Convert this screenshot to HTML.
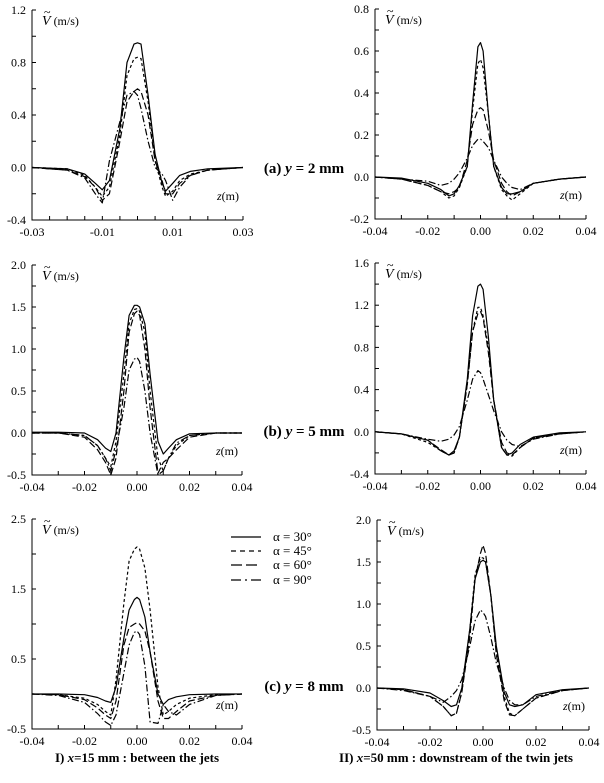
<!DOCTYPE html>
<html><head><meta charset="utf-8"><style>
html,body{margin:0;padding:0;background:#fff;}
svg text{font-family:"Liberation Serif",serif;fill:#000;}
</style></head><body>
<svg id="fig" width="604" height="778" viewBox="0 0 604 778" xmlns="http://www.w3.org/2000/svg">
<g>
 <line x1="231" y1="537" x2="261" y2="537" stroke="#000" stroke-width="1.3"/>
 <line x1="231" y1="551" x2="261" y2="551" stroke="#000" stroke-width="1.3" stroke-dasharray="5,4"/>
 <line x1="231" y1="565" x2="261" y2="565" stroke="#000" stroke-width="1.3" stroke-dasharray="11,4"/>
 <line x1="231" y1="580" x2="261" y2="580" stroke="#000" stroke-width="1.3" stroke-dasharray="10,4,2,4"/>
 <text x="273" y="541" font-size="13">α = 30°</text>
 <text x="273" y="555" font-size="13">α = 45°</text>
 <text x="273" y="569" font-size="13">α = 60°</text>
 <text x="273" y="584" font-size="13">α = 90°</text>
</g>
<text x="304" y="173" font-size="15" font-weight="bold" text-anchor="middle">(a) <tspan font-style="italic">y</tspan> = 2 mm</text>
<text x="304" y="436" font-size="15" font-weight="bold" text-anchor="middle">(b) <tspan font-style="italic">y</tspan> = 5 mm</text>
<text x="304" y="691" font-size="15" font-weight="bold" text-anchor="middle">(c) <tspan font-style="italic">y</tspan> = 8 mm</text>
<text x="137" y="762" font-size="13" font-weight="bold" text-anchor="middle">I) <tspan font-style="italic">x</tspan>=15 mm : between the jets</text>
<text x="456" y="762" font-size="13" font-weight="bold" text-anchor="middle">II) <tspan font-style="italic">x</tspan>=50 mm : downstream of the twin jets</text>
</svg>
<script>
const zA = [-0.03,-0.02,-0.015,-0.012,-0.01,-0.008,-0.005,-0.003,-0.001,0,0.001,0.003,0.005,0.007,0.008,0.01,0.012,0.015,0.02,0.03];
const a30 = [0,-0.01,-0.05,-0.12,-0.17,-0.1,0.3,0.8,0.94,0.95,0.94,0.55,0.1,-0.12,-0.18,-0.12,-0.06,-0.03,-0.01,0];
const a45 = [0,-0.01,-0.06,-0.15,-0.22,-0.15,0.25,0.7,0.83,0.84,0.83,0.5,0.05,-0.15,-0.22,-0.18,-0.1,-0.05,-0.02,0];
const a60 = [0,-0.02,-0.07,-0.15,-0.25,-0.2,0.2,0.5,0.58,0.6,0.58,0.4,0.05,-0.1,-0.2,-0.2,-0.12,-0.06,-0.02,0];
const a90 = [0,-0.02,-0.08,-0.2,-0.27,0.05,0.35,0.55,0.58,0.55,0.45,0.2,0.0,-0.05,-0.1,-0.25,-0.15,-0.06,-0.02,0];
const zB = [-0.04,-0.03,-0.02,-0.015,-0.012,-0.01,-0.008,-0.005,-0.003,-0.001,0,0.001,0.003,0.005,0.008,0.01,0.012,0.015,0.02,0.03,0.04];
const d30 = [0,-0.005,-0.03,-0.06,-0.09,-0.08,-0.04,0.05,0.35,0.62,0.64,0.6,0.3,0.05,-0.05,-0.08,-0.08,-0.07,-0.03,-0.01,0];
const d45 = [0,-0.01,-0.04,-0.07,-0.1,-0.09,-0.05,0.05,0.32,0.54,0.56,0.52,0.3,0.05,-0.06,-0.09,-0.11,-0.08,-0.03,-0.01,0];
const d60 = [0,-0.01,-0.04,-0.07,-0.08,-0.07,-0.05,0.08,0.25,0.32,0.33,0.32,0.22,0.08,-0.03,-0.07,-0.09,-0.07,-0.03,-0.01,0];
const d90 = [0,-0.01,-0.02,-0.04,-0.03,-0.01,0.02,0.09,0.15,0.18,0.18,0.17,0.14,0.08,0.0,-0.03,-0.05,-0.06,-0.03,-0.01,0];
const b30 = [0.01,0.01,0,-0.08,-0.18,-0.22,0.0,0.9,1.4,1.52,1.52,1.5,1.3,0.7,-0.1,-0.25,-0.18,-0.08,-0.01,0,0];
const b45 = [0,0,-0.03,-0.15,-0.3,-0.4,-0.1,0.7,1.3,1.47,1.48,1.45,1.2,0.5,-0.3,-0.45,-0.3,-0.15,-0.03,0,0];
const b60 = [0,0,-0.05,-0.2,-0.35,-0.5,-0.3,0.5,1.2,1.42,1.45,1.4,1.0,0.3,-0.48,-0.35,-0.3,-0.2,-0.05,0,0];
const b90 = [0,0,-0.03,-0.15,-0.3,-0.45,-0.2,0.3,0.75,0.88,0.9,0.85,0.5,0.0,-0.5,-0.45,-0.3,-0.12,-0.03,0,0];
const e30 = [0,-0.02,-0.08,-0.18,-0.22,-0.18,-0.05,0.5,1.1,1.38,1.4,1.35,0.9,0.3,-0.15,-0.22,-0.2,-0.12,-0.05,-0.01,0];
const e45 = [0,-0.02,-0.1,-0.18,-0.22,-0.2,-0.05,0.45,0.95,1.18,1.18,1.1,0.8,0.3,-0.15,-0.22,-0.23,-0.15,-0.06,-0.02,0];
const e60 = [0,-0.02,-0.08,-0.17,-0.22,-0.2,-0.05,0.45,0.95,1.12,1.14,1.08,0.75,0.3,-0.1,-0.2,-0.22,-0.15,-0.06,-0.02,0];
const e90 = [0,-0.02,-0.07,-0.09,-0.07,-0.03,0.05,0.3,0.5,0.58,0.56,0.5,0.35,0.2,0.0,-0.08,-0.12,-0.14,-0.07,-0.02,0];
const c30 = [0,0,-0.01,-0.05,-0.1,-0.12,0.1,0.8,1.2,1.35,1.38,1.35,1.1,0.6,0.0,-0.15,-0.08,-0.04,-0.01,0,0];
const c45 = [0,-0.01,-0.06,-0.15,-0.25,-0.3,0.2,1.3,1.9,2.07,2.1,2.07,1.8,1.2,0.1,-0.3,-0.25,-0.15,-0.06,-0.01,0];
const c60 = [0,-0.01,-0.08,-0.2,-0.3,-0.35,-0.1,0.7,0.95,1.0,1.02,1.0,0.9,0.6,-0.1,-0.35,-0.35,-0.25,-0.1,-0.02,0];
const c90 = [0,-0.02,-0.12,-0.28,-0.4,-0.45,-0.3,0.3,0.7,0.88,0.9,0.85,0.4,-0.4,-0.42,-0.15,-0.25,-0.3,-0.15,-0.02,0];
const f30 = [0,-0.01,-0.06,-0.15,-0.22,-0.2,0.0,0.7,1.3,1.5,1.52,1.5,1.1,0.5,-0.05,-0.2,-0.22,-0.2,-0.08,-0.02,0];
const f45 = [0,-0.02,-0.1,-0.22,-0.33,-0.3,-0.05,0.7,1.35,1.55,1.55,1.5,1.1,0.45,-0.1,-0.3,-0.33,-0.25,-0.12,-0.03,0];
const f60 = [0,-0.02,-0.1,-0.22,-0.33,-0.3,-0.05,0.6,1.3,1.6,1.7,1.6,1.1,0.4,-0.15,-0.32,-0.33,-0.25,-0.12,-0.03,0];
const f90 = [0,-0.03,-0.1,-0.17,-0.1,-0.03,0.1,0.5,0.8,0.93,0.9,0.85,0.6,0.3,0.0,-0.15,-0.2,-0.2,-0.1,-0.03,0];
const xTicksA = [-0.03,-0.01,0.01,0.03];
const xTicksB = [-0.04,-0.02,0.00,0.02,0.04];
const yTicksA = [-0.4,0.0,0.4,0.8,1.2];
const yTicksD = [-0.2,0.0,0.2,0.4,0.6,0.8];
const yTicksB = [-0.5,0.0,0.5,1.0,1.5,2.0];
const yTicksE = [-0.4,0.0,0.4,0.8,1.2,1.6];
const yTicksC = [-0.5,0.5,1.5,2.5];
const yTicksF = [-0.5,0.0,0.5,1.0,1.5,2.0];

const NS="http://www.w3.org/2000/svg";
const svg=document.getElementById('fig');
const dashes=["", "3,2.5", "7,3", "7,2.5,1.5,2.5"];
function mk(tag,attrs,parent){const e=document.createElementNS(NS,tag);for(const k in attrs)e.setAttribute(k,attrs[k]);parent.appendChild(e);return e;}
function panel(name,L,R,T,B,xmin,xmax,ymin,ymax,xt,xminor,yt,yminor,ydec,z,series){
  const g=mk('g',{},svg);
  
  
  const sx=v=>L+(v-xmin)/(xmax-xmin)*(R-L);
  const sy=v=>B-(v-ymin)/(ymax-ymin)*(B-T);
  const ax=mk('path',{d:`M${L},${T}V${B}H${R}`,stroke:'#000','stroke-width':1,fill:'none'},g);
  
  
  for(let v=xmin;v<=xmax+1e-9;v+=xminor){mk('line',{x1:sx(v),x2:sx(v),y1:B,y2:B-4,stroke:'#000','stroke-width':1},g);}
  for(let v=ymin;v<=ymax+1e-9;v+=yminor){mk('line',{x1:L,x2:L+4,y1:sy(v),y2:sy(v),stroke:'#000','stroke-width':1},g);}
  xt.forEach(v=>{const t=mk('text',{x:sx(v),y:B+16,'font-size':12,'text-anchor':'middle'},g);t.textContent=v.toFixed(2);
    
    });
  yt.forEach(v=>{const t=mk('text',{x:L-6,y:sy(v)+4,'font-size':12,'text-anchor':'end'},g);t.textContent=v.toFixed(ydec);
    
    });
  const yl=mk('text',{x:L+10,y:T+15,'font-size':12},g);
  yl.innerHTML='<tspan font-style="italic" font-size="14">V</tspan> (m/s)';
  
  
  const tl=mk('text',{x:L+12,y:T+6,'font-size':12},g);tl.textContent='~';
  const xl=mk('text',{x:R-4,y:B-20,'font-size':12,'text-anchor':'end'},g);
  xl.innerHTML='<tspan font-style="italic">z</tspan>(m)';
  
  
  series.forEach((s,i)=>{
    const pts=z.map((zz,j)=>sx(zz).toFixed(1)+','+sy(s[j]).toFixed(1)).join(' ');
    const p=mk('polyline',{points:pts,fill:'none',stroke:'#000','stroke-width':1.2,'stroke-linejoin':'round'},g);
    if(dashes[i])p.setAttribute('stroke-dasharray',dashes[i]);
    
    
  });
}
panel('panel-a',32,243,10,220,-0.03,0.03,-0.4,1.2,xTicksA,0.005,yTicksA,0.2,1,zA,[a30,a45,a60,a90]);
panel('panel-d',375,586,9,219,-0.04,0.04,-0.2,0.8,xTicksB,0.01,yTicksD,0.1,1,zB,[d30,d45,d60,d90]);
panel('panel-b',32,242,265,475,-0.04,0.04,-0.5,2.0,xTicksB,0.01,yTicksB,0.25,1,zB,[b30,b45,b60,b90]);
panel('panel-e',375,586,263,474,-0.04,0.04,-0.4,1.6,xTicksB,0.01,yTicksE,0.2,1,zB,[e30,e45,e60,e90]);
panel('panel-c',32,242,519,729,-0.04,0.04,-0.5,2.5,xTicksB,0.01,yTicksC,0.5,1,zB,[c30,c45,c60,c90]);
panel('panel-f',377,589,520,730,-0.04,0.04,-0.5,2.0,xTicksB,0.01,yTicksF,0.25,1,zB,[f30,f45,f60,f90]);
</script>
</body></html>
